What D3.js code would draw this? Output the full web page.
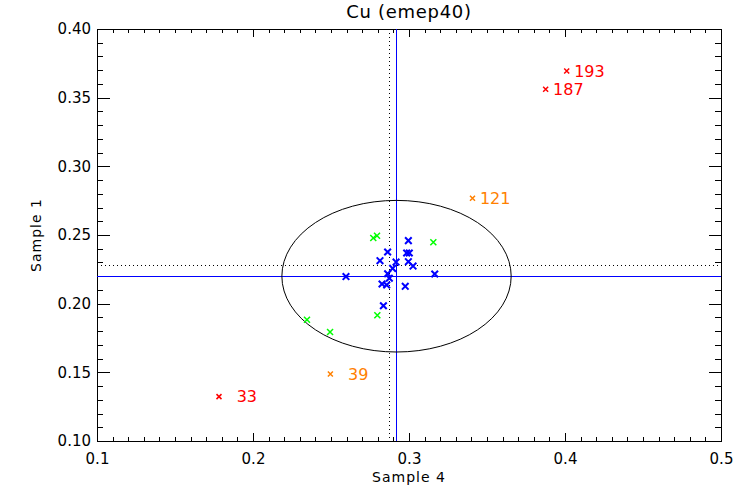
<!DOCTYPE html>
<html>
<head>
<meta charset="utf-8">
<script src="https://cdn.jsdelivr.net/npm/d3@7"></script>
<style>
  body { margin: 0; background: #fff; }
  text { font-family: "DejaVu Sans", sans-serif; fill: #000; }
  .axis path, .axis line { stroke: #000; shape-rendering: crispEdges; }
  .axis text { font-size: 15px; }
</style>
</head>
<body>
<div id="chart"></div>
<script>
var svgWidth = 750;
var svgHeight = 500;

var margin = { top: 29, right: 29, bottom: 59, left: 97 };

var width = svgWidth - margin.left - margin.right;
var height = svgHeight - margin.top - margin.bottom;

// tick values
var xTicks = [0.1, 0.2, 0.3, 0.4, 0.5];
var yTicks = [0.10, 0.15, 0.20, 0.25, 0.30, 0.35, 0.40];

// blue points (inside)
var blueX = [0.2996, 0.2863, 0.2985, 0.3002, 0.2814, 0.2917, 0.2996, 0.3026,
  0.2895, 0.2863, 0.3165, 0.2596, 0.2874, 0.2827, 0.2857, 0.2976, 0.2836];
var blueY = [0.2459, 0.2376, 0.2369, 0.2369, 0.2313, 0.2303, 0.2306, 0.2274,
  0.2257, 0.2218, 0.2216, 0.2197, 0.2185, 0.2143, 0.2136, 0.2126, 0.1985];

// green points
var greenX = [0.2771, 0.2795, 0.3156, 0.2346, 0.2494, 0.2797];
var greenY = [0.2478, 0.2495, 0.2447, 0.1883, 0.1794, 0.1915];

// orange points with labels
var orangeX = [0.3407, 0.2496];
var orangeY = [0.2767, 0.1488];
var orangeLabels = ["121", "39"];

// red points with labels
var redX = [0.1782, 0.4011, 0.3876];
var redY = [0.1323, 0.3694, 0.3561];
var redLabels = ["33", "193", "187"];

// centre lines and ellipse
var centreX = 0.292, centreY = 0.220;
var dottedX = 0.2874, dottedY = 0.2277;
var ellipseRx = 0.0735, ellipseRy = 0.0552;

var svg = d3.select("#chart")
  .append("svg")
  .attr("width", svgWidth)
  .attr("height", svgHeight);

var chartGroup = svg.append("g")
  .attr("transform", `translate(${margin.left}, ${margin.top})`);

var xScale = d3.scaleLinear().domain([0.1, 0.5]).range([0, width]);
var yScale = d3.scaleLinear().domain([0.1, 0.4]).range([height, 0]);

var xMinor = d3.range(10, 51).map(d => d / 100).filter(d => Math.round(d * 100) % 10 != 0);
var yMinor = d3.range(10, 41).map(d => d / 100).filter(d => Math.round(d * 100) % 5 != 0);

// minor ticks on all four sides
chartGroup.append("g").classed("axis", true)
  .attr("transform", `translate(0, ${height})`)
  .call(d3.axisBottom(xScale).tickValues(xMinor).tickSize(-4).tickSizeOuter(0).tickFormat(""));
chartGroup.append("g").classed("axis", true)
  .call(d3.axisTop(xScale).tickValues(xMinor).tickSize(-4).tickSizeOuter(0).tickFormat(""));
chartGroup.append("g").classed("axis", true)
  .call(d3.axisLeft(yScale).tickValues(yMinor).tickSize(-6).tickSizeOuter(0).tickFormat(""));
chartGroup.append("g").classed("axis", true)
  .attr("transform", `translate(${width}, 0)`)
  .call(d3.axisRight(yScale).tickValues(yMinor).tickSize(-6).tickSizeOuter(0).tickFormat(""));

// major ticks
chartGroup.append("g").classed("axis", true)
  .attr("transform", `translate(0, ${height})`)
  .call(d3.axisBottom(xScale).tickValues(xTicks).tickSize(-8).tickSizeOuter(0)
    .tickPadding(12).tickFormat(d3.format(".1f")));
chartGroup.append("g").classed("axis", true)
  .call(d3.axisTop(xScale).tickValues(xTicks).tickSize(-8).tickSizeOuter(0).tickFormat(""));
chartGroup.append("g").classed("axis", true)
  .call(d3.axisLeft(yScale).tickValues(yTicks).tickSize(-12.5).tickSizeOuter(0)
    .tickPadding(6).tickFormat(d3.format(".2f")));
chartGroup.append("g").classed("axis", true)
  .attr("transform", `translate(${width}, 0)`)
  .call(d3.axisRight(yScale).tickValues(yTicks).tickSize(-12.5).tickSizeOuter(0).tickFormat(""));

chartGroup.selectAll(".axis .domain").remove();

// frame
chartGroup.append("rect")
  .attr("width", width)
  .attr("height", height)
  .attr("fill", "none")
  .attr("stroke", "#000")
  .attr("shape-rendering", "crispEdges");

// dotted lines
chartGroup.append("line")
  .attr("x1", xScale(dottedX)).attr("x2", xScale(dottedX))
  .attr("y1", 0).attr("y2", height)
  .attr("stroke", "#000").attr("stroke-dasharray", "1,3")
  .attr("shape-rendering", "crispEdges");
chartGroup.append("line")
  .attr("x1", 0).attr("x2", width)
  .attr("y1", yScale(dottedY)).attr("y2", yScale(dottedY))
  .attr("stroke", "#000").attr("stroke-dasharray", "1,3")
  .attr("shape-rendering", "crispEdges");

// blue centre lines
chartGroup.append("line")
  .attr("x1", xScale(centreX)).attr("x2", xScale(centreX))
  .attr("y1", 0).attr("y2", height)
  .attr("stroke", "#0000ff")
  .attr("shape-rendering", "crispEdges");
chartGroup.append("line")
  .attr("x1", 0).attr("x2", width)
  .attr("y1", yScale(centreY)).attr("y2", yScale(centreY))
  .attr("stroke", "#0000ff")
  .attr("shape-rendering", "crispEdges");

// ellipse
chartGroup.append("ellipse")
  .attr("cx", xScale(centreX))
  .attr("cy", yScale(centreY))
  .attr("rx", xScale(centreX + ellipseRx) - xScale(centreX))
  .attr("ry", yScale(centreY) - yScale(centreY + ellipseRy))
  .attr("fill", "none")
  .attr("stroke", "#000");

// cross marker path
function cross(s) {
  return `M${-s},${-s}L${s},${s}M${-s},${s}L${s},${-s}`;
}

function drawPoints(xs, ys, color, size, thick) {
  chartGroup.selectAll(null)
    .data(xs.map((d, i) => [d, ys[i]]))
    .enter()
    .append("path")
    .attr("transform", d => `translate(${xScale(d[0])}, ${yScale(d[1])})`)
    .attr("d", cross(size))
    .attr("fill", "none")
    .attr("stroke", color)
    .attr("stroke-width", thick);
}

function drawLabels(xs, ys, labels, color) {
  chartGroup.selectAll(null)
    .data(labels)
    .enter()
    .append("text")
    .attr("x", (d, i) => xScale(xs[i]) + 38)
    .attr("y", (d, i) => yScale(ys[i]))
    .attr("dy", "0.36em")
    .attr("text-anchor", "end")
    .attr("font-size", 16)
    .style("fill", color)
    .text(d => d);
}

drawPoints(greenX, greenY, "#00ff00", 3, 1.5);
drawPoints(blueX, blueY, "#0000ff", 3.3, 2);
drawPoints(orangeX, orangeY, "#ff8000", 2.5, 1.5);
drawPoints(redX, redY, "#ff0000", 2.5, 1.5);
drawLabels(orangeX, orangeY, orangeLabels, "#ff8000");
drawLabels(redX, redY, redLabels, "#ff0000");

// titles
svg.append("text")
  .attr("x", margin.left + width / 2)
  .attr("y", 18)
  .attr("text-anchor", "middle")
  .attr("font-size", 18)
  .attr("letter-spacing", 0.7)
  .text("Cu (emep40)");

svg.append("text")
  .attr("x", margin.left + width / 2)
  .attr("y", 482)
  .attr("text-anchor", "middle")
  .attr("font-size", 14)
  .attr("letter-spacing", 1)
  .text("Sample 4");

svg.append("text")
  .attr("transform", `translate(41, ${margin.top + height / 2}) rotate(-90)`)
  .attr("text-anchor", "middle")
  .attr("font-size", 14)
  .attr("letter-spacing", 1)
  .text("Sample 1");
</script>
</body>
</html>
